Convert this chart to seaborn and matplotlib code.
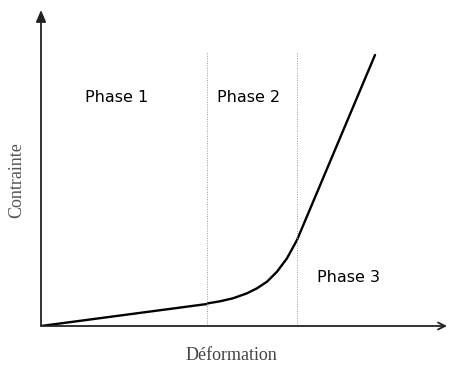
import matplotlib
matplotlib.use("Agg")
import matplotlib.pyplot as plt
import seaborn as sns
import pandas as pd

# Stress-strain curve (arbitrary units)
deformation = [0, 166, 167, 179, 192, 206, 216, 226, 236, 246, 256, 334]
contrainte = [0, 22, 22.7, 24.7, 27.7, 32.7, 37.7, 44.3, 54.3, 67.7, 86, 271]

# Phase boundaries along the strain axis
limites = [166, 256]
limite_haut = 274

# Phase labels and positions
phases = ["Phase 1", "Phase 2", "Phase 3"]
phase_x = [76, 208, 307]
phase_y = [228, 228, 48]

sns.set_style("white")
fig = plt.figure(figsize=(4.49, 3.65), dpi=100)
ax = fig.add_axes([41 / 449, 39 / 365, 406 / 449, 316 / 365])
ax.set_xlim(0, 406)
ax.set_ylim(0, 316)

df = pd.DataFrame({"Déformation": deformation, "Contrainte": contrainte})
sns.lineplot(data=df, x="Déformation", y="Contrainte", ax=ax, color="black",
             linewidth=1.7, sort=False, estimator=None)

for xv in limites:
    ax.plot([xv, xv], [0, limite_haut], color="#9a9a9a", linestyle=(0, (1, 1.5)),
            linewidth=0.7)

for txt, x, y in zip(phases, phase_x, phase_y):
    ax.text(x, y, txt, ha="center", va="center", fontsize=11.5,
            family="DejaVu Sans", color="black")

# Axes drawn as arrows
for s in ax.spines.values():
    s.set_visible(False)
ax.annotate("", xy=(1.0, 0), xytext=(0, 0), xycoords="axes fraction",
            arrowprops=dict(arrowstyle="->,head_length=0.5,head_width=0.25",
                            color="#222222", lw=1.3, shrinkA=0, shrinkB=0))
ax.annotate("", xy=(0, 1.0), xytext=(0, 0), xycoords="axes fraction",
            arrowprops=dict(arrowstyle="-|>,head_length=0.7,head_width=0.3",
                            color="#222222", lw=1.3, shrinkA=0, shrinkB=0))

ax.set_xticks([])
ax.set_yticks([])
ax.set_xlabel("Déformation", family="Liberation Serif", fontsize=13,
              color="#444444", va="center")
ax.set_ylabel("Contrainte", family="Liberation Serif", fontsize=13,
              color="#555555", va="center")
ax.xaxis.set_label_coords(0.47, -0.092)
ax.yaxis.set_label_coords(-0.059, 0.462)

fig.savefig("out.png", dpi=100)
